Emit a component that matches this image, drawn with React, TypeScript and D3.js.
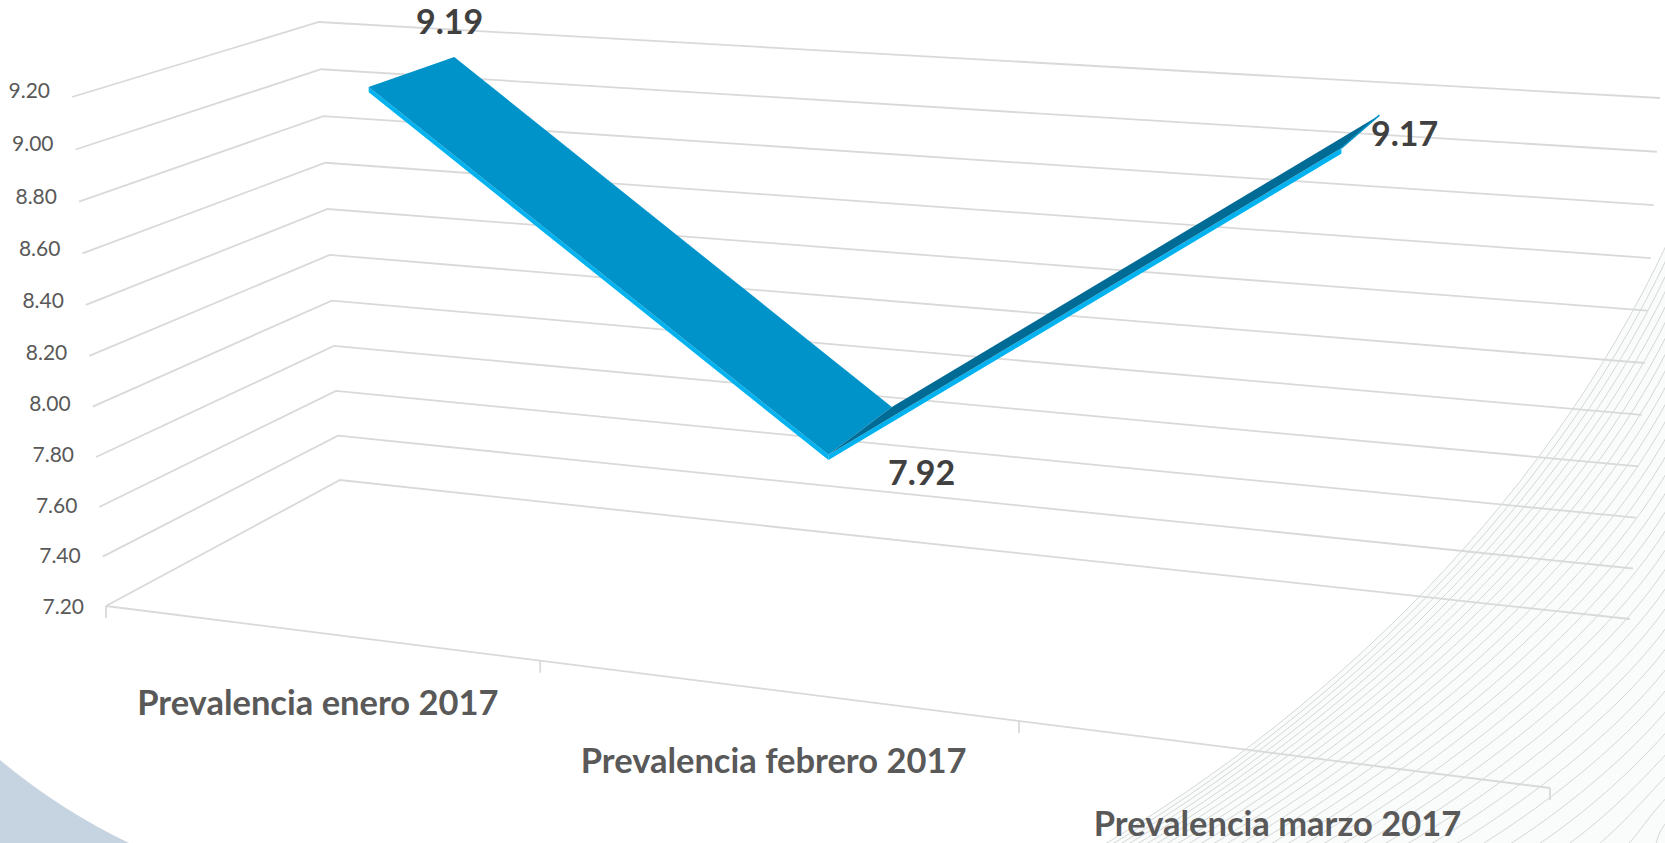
import * as d3 from "d3";

const categories = ["Prevalencia enero 2017", "Prevalencia febrero 2017", "Prevalencia marzo 2017"];
const values = [9.19, 7.92, 9.17];
const valueLabels = ["9.19", "7.92", "9.17"];
const valueTicks = [7.2, 7.4, 7.6, 7.8, 8.0, 8.2, 8.4, 8.6, 8.8, 9.0, 9.2];

const W = 1665;
const H = 843;

// the 3D box as it lands on the picture: [x, y] of each corner
const FLb = [106, 606], FLt = [72, 97];
const BLb = [340, 480], BLt = [319, 22];
const BRb = [1630, 619], BRt = [1660, 98];
const FRb = [1550, 788], FRt = [1598, 183];

const ribbonFront = 0.33;
const ribbonBack = 0.72;
const ribbonThick = 0.02;

// data label offsets from the front point of the ribbon
const labelDx = [81, 93, 63];
const labelDy = [-66, 17, -16];

const uScale = d3.scaleLinear().domain([0, categories.length]).range([0, 1]);
const vScale = d3.scaleLinear().domain([7.2, 9.2]).range([0, 1]);

// perspective foreshortening along an axis
const warp = (t: number, k: number) => t / (t + k * (1 - t));
const mix = (a: number[], b: number[], t: number) => [a[0] + (b[0] - a[0]) * t, a[1] + (b[1] - a[1]) * t];

const project = (cat: number, val: number, depth: number) => {
  const u = warp(uScale(cat), 1.163);
  const v = warp(vScale(val), 1.035);
  const bottom = mix(mix(FLb, FRb, u), mix(BLb, BRb, u), depth);
  const top = mix(mix(FLt, FRt, u), mix(BLt, BRt, u), depth);
  return mix(bottom, top, v);
};

const poly = (pts: number[][]) => d3.line()(pts as [number, number][]) + "Z";
const polyline = d3.line();

const nCat = categories.length;

// contour lines of the slide background, fanning out towards the bottom right
const nContours = 36;
const startSteps = d3.range(0, nContours).map((i) => 7 * Math.pow(1.055, i));
const endSteps = d3.range(0, nContours).map((i) => 14.5 + i * 0.29);
const startX = Array.from(d3.cumsum(startSteps)).map((d) => 1060 + d - startSteps[0]);
const endY = Array.from(d3.cumsum(endSteps)).map((d) => 215 + d - endSteps[0]);
const contour = (i: number) => {
  const s = Math.min(1, i / 30);
  const c1 = mix([270, -150], [40, -20], s);
  const c2 = mix([-120, 275], [-40, 35], s);
  const p = d3.path();
  p.moveTo(startX[i], 870);
  p.bezierCurveTo(startX[i] + c1[0], 870 + c1[1], 1680 + c2[0], endY[i] + c2[1], 1680, endY[i]);
  return p.toString();
};

export default function App() {
  const mid = values.map((v, i) => ({ v, c: i + 0.5 }));
  return (
    <svg width={W} height={H} viewBox={`0 0 ${W} ${H}`} style={{ position: "absolute", left: 0, top: 0, background: "#fff" }}>
      <path d={`M0,760 Q60,810 129,843 L0,843 Z`} fill="#C6D3E0" />

      <path d={contour(0) + "L1680,870Z"} fill="#FAFBFB" />
      <g fill="none" stroke="#D0D3D3" strokeWidth={0.9}>
        {d3.range(0, nContours).map((i) => <path key={i} d={contour(i)} />)}
      </g>

      <g fill="none" stroke="#D9D9D9" strokeWidth={1.8}>
        {valueTicks.map((t) => (
          <path key={t} d={polyline([project(0, t, 0), project(0, t, 1), project(nCat, t, 1)] as [number, number][])!} />
        ))}
        <path d={polyline([project(0, 7.2, 0), project(nCat, 7.2, 0)] as [number, number][])!} />
        {d3.range(0, nCat + 1).map((c) => {
          const p = project(c, 7.2, 0);
          return <line key={c} x1={p[0]} y1={p[1]} x2={p[0]} y2={p[1] + 12} />;
        })}
      </g>

      {/* ribbon: front face first, then the top of every segment */}
      {d3.pairs(mid).map(([a, b], i) => (
        <g key={i}>
          <path
            d={poly([
              project(a.c, a.v, ribbonFront),
              project(b.c, b.v, ribbonFront),
              project(b.c, b.v - ribbonThick, ribbonFront),
              project(a.c, a.v - ribbonThick, ribbonFront),
            ])}
            fill="#00B3F0"
          />
          <path
            d={poly([
              project(a.c, a.v, ribbonFront),
              project(a.c, a.v, ribbonBack),
              project(b.c, b.v, ribbonBack),
              project(b.c, b.v, ribbonFront),
            ])}
            fill={b.v < a.v ? "#0093CA" : "#006C96"}
          />
        </g>
      ))}
      <path
        d={polyline([project(mid[2].c, mid[2].v, ribbonBack), project(mid[2].c, mid[2].v, ribbonFront)] as [number, number][])!}
        stroke="#0093CA"
        strokeWidth={1.5}
        fill="none"
      />

      <g fontFamily="Lato" fontSize={21} fill="#595959" textAnchor="end">
        {valueTicks.map((t) => {
          const p = project(0, t, 0);
          return (
            <text key={t} x={p[0] - 22} y={p[1] - 1 - 7 * vScale(t)} dominantBaseline="central">
              {t.toFixed(2)}
            </text>
          );
        })}
      </g>

      <g fontFamily="Lato" fontWeight={700} fontSize={34.5} fill="#595959" textAnchor="middle">
        {categories.map((c, i) => {
          const p = project(i + 0.5, 7.2, 0);
          return (
            <text key={c} x={p[0]} y={p[1] + 69} dominantBaseline="central">
              {c}
            </text>
          );
        })}
      </g>

      <g fontFamily="Lato" fontWeight={700} fontSize={34} fill="#404040" textAnchor="middle">
        {mid.map((d, i) => {
          const p = project(d.c, d.v, ribbonFront);
          return (
            <text key={i} x={p[0] + labelDx[i]} y={p[1] + labelDy[i]} dominantBaseline="central">
              {valueLabels[i]}
            </text>
          );
        })}
      </g>
    </svg>
  );
}
